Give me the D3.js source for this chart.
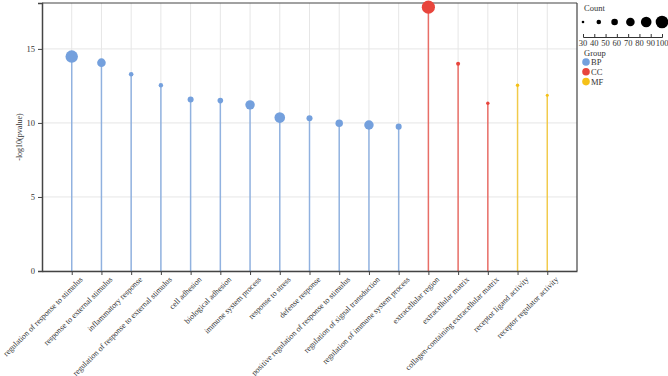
<!DOCTYPE html>
<meta charset="utf-8">
<script src="https://d3js.org/d3.v7.min.js"></script>
<style>
  body { margin: 0; background: #fff; }
  text { font-family: "Liberation Serif", "DejaVu Serif", serif; fill: #333; }
</style>
<div id="chart"></div>
<script>
  // terms, grouped by ontology
  const terms = [
    "regulation of response to stimulus", "response to external stimulus", "inflammatory response",
    "regulation of response to external stimulus", "cell adhesion", "biological adhesion",
    "immune system process", "response to stress", "defense response",
    "positive regulation of response to stimulus", "regulation of signal transduction",
    "regulation of immune system process", "extracellular region", "extracellular matrix",
    "collagen-containing extracellular matrix", "receptor ligand activity", "receptor regulator activity"
  ];
  const groups = ["BP","BP","BP","BP","BP","BP","BP","BP","BP","BP","BP","BP","CC","CC","CC","MF","MF"];
  const pvalues = [14.48, 14.07, 13.29, 12.55, 11.58, 11.51, 11.22, 10.36, 10.32, 9.98, 9.86, 9.75, 17.82, 13.99, 11.33, 12.55, 11.87];
  const counts = [99, 72, 44, 43, 54, 51, 78, 86, 54, 64, 78, 54, 104, 40, 36, 36, 33];
  const groupNames = ["BP", "CC", "MF"];
  const groupColors = ["#74a0dd", "#e8453c", "#f5c118"];
  const yTicks = [0, 5, 10, 15];
  const countTicks = [30, 40, 50, 60, 70, 80, 90, 100];
  const countLegend = [30, 44, 58, 72, 86, 100];

  const data = terms.map((t, i) => ({term: t, group: groups[i], p: pvalues[i], count: counts[i]}));

  const W = 668, H = 376;
  const margin = {top: 3, right: 91, bottom: 105, left: 42};

  const svg = d3.select("#chart").append("svg")
    .attr("width", W).attr("height", H);

  const x = d3.scalePoint().domain(terms).range([margin.left, W - margin.right]).padding(1);
  const y = d3.scaleLinear().domain([0, 18.1]).range([H - margin.bottom, margin.top]);
  const r = d3.scaleLinear().domain([30, 100]).range([1.3, 6.3]);
  const color = d3.scaleOrdinal().domain(groupNames).range(groupColors);

  // grid
  svg.append("g").selectAll("line.v").data(terms).join("line")
    .attr("x1", d => x(d)).attr("x2", d => x(d))
    .attr("y1", y.range()[0]).attr("y2", y.range()[1])
    .attr("stroke", "#e6e6e6").attr("stroke-width", 1);
  svg.append("g").selectAll("line.h").data(yTicks).join("line")
    .attr("x1", margin.left).attr("x2", W - margin.right)
    .attr("y1", d => y(d)).attr("y2", d => y(d))
    .attr("stroke", "#e6e6e6").attr("stroke-width", 1);

  // frame top/right
  svg.append("line")
    .attr("x1", margin.left).attr("x2", W - margin.right)
    .attr("y1", margin.top).attr("y2", margin.top)
    .attr("stroke", "#444").attr("stroke-width", 1.2);
  svg.append("line")
    .attr("x1", W - margin.right).attr("x2", W - margin.right)
    .attr("y1", margin.top).attr("y2", H - margin.bottom)
    .attr("stroke", "#444").attr("stroke-width", 1.2);

  // stems
  svg.append("g").selectAll("line").data(data).join("line")
    .attr("x1", d => x(d.term)).attr("x2", d => x(d.term))
    .attr("y1", y(0)).attr("y2", d => y(d.p))
    .attr("stroke", d => color(d.group))
    .attr("stroke-width", 1.5)
    .attr("opacity", 0.75);

  // points
  svg.append("g").selectAll("circle").data(data).join("circle")
    .attr("cx", d => x(d.term)).attr("cy", d => y(d.p))
    .attr("r", d => r(d.count))
    .attr("fill", d => color(d.group));

  // axes
  const yAxis = svg.append("g")
    .attr("transform", `translate(${margin.left},0)`)
    .call(d3.axisLeft(y).tickValues(yTicks).tickSize(4).tickPadding(3));
  yAxis.select(".domain").attr("stroke", "#444").attr("stroke-width", 1.5);
  yAxis.selectAll(".tick line").attr("stroke", "#444");
  yAxis.selectAll("text").style("font-size", "8.5px").attr("fill", "#333");

  const xAxis = svg.append("g")
    .attr("transform", `translate(0,${H - margin.bottom})`)
    .call(d3.axisBottom(x).tickSize(4).tickSizeOuter(0));
  xAxis.select(".domain").attr("stroke", "#444").attr("stroke-width", 1.5);
  xAxis.selectAll(".tick line").attr("stroke", "#444");
  xAxis.selectAll("text")
    .style("font-size", "8px").attr("fill", "#333")
    .style("text-anchor", "end")
    .attr("x", 0).attr("y", 0)
    .attr("dy", "0.35em")
    .attr("transform", "translate(9,7) rotate(-45)");

  svg.append("text")
    .attr("transform", `translate(22,${(y.range()[0] + y.range()[1]) / 2}) rotate(-90)`)
    .attr("text-anchor", "middle")
    .style("font-size", "8px")
    .text("-log10(pvalue)");

  // legend: count
  const lg = svg.append("g");
  lg.append("text").attr("x", 584).attr("y", 11).style("font-size", "8.5px").text("Count");
  const cx = d3.scaleLinear().domain([30, 100]).range([583, 662]);
  lg.selectAll("circle").data(countLegend).join("circle")
    .attr("cx", d => cx(d)).attr("cy", 22).attr("r", d => r(d)).attr("fill", "#000");
  const cAxis = lg.append("g").attr("transform", "translate(0,37)")
    .call(d3.axisTop(cx).tickValues(countTicks).tickSize(3).tickSizeOuter(3).tickFormat(""));
  cAxis.select(".domain").attr("stroke", "#333");
  cAxis.selectAll(".tick line").attr("stroke", "#333");
  lg.selectAll("text.ct").data(countTicks).join("text")
    .attr("class", "ct")
    .attr("x", d => cx(d)).attr("y", 46)
    .attr("text-anchor", "middle")
    .style("font-size", "8.5px")
    .text(d => d);

  // legend: group
  lg.append("text").attr("x", 584).attr("y", 56).style("font-size", "8.5px").text("Group");
  const gl = lg.selectAll("g.grp").data(groupNames).join("g")
    .attr("transform", (d, i) => `translate(586,${62 + i * 9.8})`);
  gl.append("circle").attr("r", 3.8).attr("fill", d => color(d));
  gl.append("text").attr("x", 5).attr("y", 3).style("font-size", "8.5px").text(d => d);
</script>
